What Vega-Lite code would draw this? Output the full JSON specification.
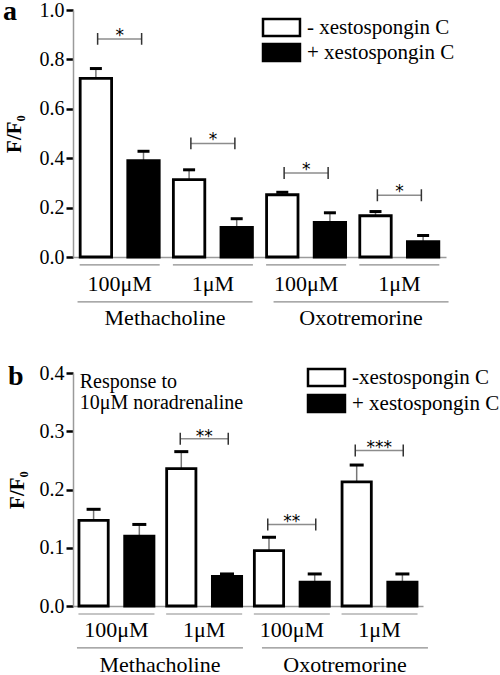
{
  "$schema": "https://vega.github.io/schema/vega-lite/v6.json",
  "padding": {"left": 3, "top": -2, "right": 0, "bottom": 0},
  "config": {
    "font": "Liberation Serif",
    "view": {"stroke": null},
    "axis": {"grid": false, "domainColor": "#9a9a9a", "domainWidth": 1.5, "labelColor": "black", "labelFont": "Liberation Serif", "titleFont": "Liberation Serif", "titleColor": "black"},
    "legend": {"padding": 0, "labelFont": "Liberation Serif"},
    "text": {"font": "Liberation Serif"}
  },
  "datasets": {
    "barsA": [
      {"pair": "Methacholine 100μM", "trt": "-", "value": 0.723, "err": 0.763},
      {"pair": "Methacholine 100μM", "trt": "+", "value": 0.39, "err": 0.428},
      {"pair": "Methacholine 1μM", "trt": "-", "value": 0.313, "err": 0.353},
      {"pair": "Methacholine 1μM", "trt": "+", "value": 0.12, "err": 0.155},
      {"pair": "Oxotremorine 100μM", "trt": "-", "value": 0.252, "err": 0.262},
      {"pair": "Oxotremorine 100μM", "trt": "+", "value": 0.14, "err": 0.179},
      {"pair": "Oxotremorine 1μM", "trt": "-", "value": 0.167, "err": 0.184},
      {"pair": "Oxotremorine 1μM", "trt": "+", "value": 0.062, "err": 0.087}
    ],
    "bracketsA": [
      {"pair": "Methacholine 100μM", "y": 0.883, "stars": "*"},
      {"pair": "Methacholine 1μM", "y": 0.46, "stars": "*"},
      {"pair": "Oxotremorine 100μM", "y": 0.34, "stars": "*"},
      {"pair": "Oxotremorine 1μM", "y": 0.25, "stars": "*"}
    ],
    "barsB": [
      {"pair": "Methacholine 100μM", "trt": "-", "value": 0.147, "err": 0.166},
      {"pair": "Methacholine 100μM", "trt": "+", "value": 0.12, "err": 0.14},
      {"pair": "Methacholine 1μM", "trt": "-", "value": 0.236, "err": 0.265},
      {"pair": "Methacholine 1μM", "trt": "+", "value": 0.051, "err": 0.055},
      {"pair": "Oxotremorine 100μM", "trt": "-", "value": 0.095, "err": 0.118},
      {"pair": "Oxotremorine 100μM", "trt": "+", "value": 0.041, "err": 0.055},
      {"pair": "Oxotremorine 1μM", "trt": "-", "value": 0.213, "err": 0.242},
      {"pair": "Oxotremorine 1μM", "trt": "+", "value": 0.041, "err": 0.055}
    ],
    "bracketsB": [
      {"pair": "Methacholine 1μM", "y": 0.287, "stars": "**"},
      {"pair": "Oxotremorine 100μM", "y": 0.14, "stars": "**"},
      {"pair": "Oxotremorine 1μM", "y": 0.267, "stars": "***"}
    ],
    "pairs": [
      {"pair": "Methacholine 100μM"},
      {"pair": "Methacholine 1μM"},
      {"pair": "Oxotremorine 100μM"},
      {"pair": "Oxotremorine 1μM"}
    ],
    "drugs": [
      {"drug": "Methacholine"},
      {"drug": "Oxotremorine"}
    ],
    "note": [
      {"pair": "Methacholine 100μM", "note": "Response to\n10μM noradrenaline"}
    ]
  },
  "columns": 1,
  "align": "none",
  "spacing": 34,
  "resolve": {"scale": {"x": "independent", "y": "independent", "xOffset": "independent", "fill": "independent"}, "legend": {"fill": "independent"}},
  "concat": [
    {
      "width": 373,
      "height": 247,
      "title": {"text": "a", "anchor": "start", "frame": "group", "fontSize": 28, "fontWeight": "bold", "font": "Liberation Serif", "color": "black", "dx": -70, "offset": -48, "baseline": "alphabetic"},
      "resolve": {"scale": {"x": "independent"}},
      "layer": [
        {
          "data": {"name": "barsA"},
          "encoding": {
            "x": {"field": "pair", "type": "nominal", "sort": null,
              "scale": {"domain": ["Methacholine 100μM", "Methacholine 1μM", "Oxotremorine 100μM", "Oxotremorine 1μM"], "paddingInner": 0.152, "paddingOuter": 0.077},
              "axis": {"title": null, "ticks": false, "labelExpr": "split(datum.label, ' ')[1]", "labelFont": "Liberation Serif", "labelFontSize": 22, "labelPadding": 16, "labelAngle": 0}},
            "xOffset": {"field": "trt", "type": "nominal", "sort": null, "scale": {"domain": ["-", "+"], "paddingInner": 0.34, "paddingOuter": 0}}
          },
          "layer": [
            {"mark": {"type": "rule", "color": "#777777", "strokeWidth": 1.5},
             "encoding": {"y": {"field": "value", "type": "quantitative"}, "y2": {"field": "err"}}},
            {"mark": {"type": "bar", "stroke": "black", "strokeWidth": 2.8},
             "encoding": {
               "y": {"field": "value", "type": "quantitative",
                 "scale": {"domain": [0, 1], "nice": false, "zero": true},
                 "axis": {"title": "F/F₀", "titleFont": "Liberation Serif", "titleFontSize": 21, "titleFontWeight": "bold", "titlePadding": 15, "values": [0, 0.2, 0.4, 0.6, 0.8, 1.0], "format": ".1f", "labelFont": "Liberation Serif", "labelFontSize": 20, "labelPadding": 2, "tickColor": "black", "tickWidth": 2.5, "tickSize": 7}},
               "fill": {"field": "trt", "type": "nominal", "sort": null,
                 "scale": {"domain": ["-", "+"], "range": ["white", "black"]},
                 "legend": {"title": null, "orient": "none", "legendX": 188, "legendY": 7, "symbolType": "M-1,-1H3.35V1H-1Z", "symbolSize": 289, "symbolStrokeColor": "black", "symbolStrokeWidth": 2.5, "labelFontSize": 21, "labelFont": "Liberation Serif", "labelColor": "black", "labelOffset": 25, "rowPadding": -2,
                   "labelExpr": "datum.value == '-' ? '- xestospongin C' : '+ xestospongin C'",
                   "encode": {"symbols": {"update": {"stroke": {"value": "black"}, "strokeWidth": {"value": 2.5}}}}}}
             }},
            {"mark": {"type": "tick", "color": "black", "size": 12, "thickness": 3, "opacity": 1},
             "encoding": {"y": {"field": "err", "type": "quantitative"}}}
          ]
        },
        {
          "data": {"name": "bracketsA"},
          "encoding": {
            "x": {"field": "pair", "type": "nominal", "sort": null, "axis": null,
              "scale": {"domain": ["Methacholine 100μM", "Methacholine 1μM", "Oxotremorine 100μM", "Oxotremorine 1μM"], "paddingInner": 0.152, "paddingOuter": 0.077}},
            "y": {"field": "y", "type": "quantitative"}
          },
          "layer": [
            {"mark": {"type": "point", "shape": "M-1,0H1", "size": 1936, "filled": false, "stroke": "#8c8c8c", "strokeWidth": 1.5, "opacity": 1}},
            {"mark": {"type": "point", "shape": "M-1,-0.27V0.27M1,-0.27V0.27", "size": 1936, "filled": false, "stroke": "#333333", "strokeWidth": 1.5, "opacity": 1}},
            {"mark": {"type": "text", "font": "DejaVu Sans", "fontSize": 17, "baseline": "alphabetic", "dy": 2, "color": "black"},
             "encoding": {"text": {"field": "stars"}}}
          ]
        },
        {
          "data": {"name": "pairs"},
          "mark": {"type": "tick", "size": 80, "thickness": 1.2, "color": "#8c8c8c", "opacity": 1},
          "encoding": {
            "x": {"field": "pair", "type": "nominal", "sort": null, "axis": null,
              "scale": {"domain": ["Methacholine 100μM", "Methacholine 1μM", "Oxotremorine 100μM", "Oxotremorine 1μM"], "paddingInner": 0.152, "paddingOuter": 0.077}},
            "y": {"datum": -0.032, "type": "quantitative"}
          }
        },
        {
          "data": {"name": "drugs"},
          "encoding": {
            "x": {"field": "drug", "type": "nominal", "sort": null, "axis": null,
              "scale": {"type": "point", "domain": ["Methacholine", "Oxotremorine"], "padding": 0.4515, "align": 0.52}}
          },
          "layer": [
            {"mark": {"type": "tick", "size": 175, "thickness": 1.2, "color": "#8c8c8c", "opacity": 1},
             "encoding": {"y": {"datum": -0.182, "type": "quantitative"}}},
            {"mark": {"type": "text", "font": "Liberation Serif", "fontSize": 22, "baseline": "alphabetic", "color": "black"},
             "encoding": {"y": {"datum": -0.275, "type": "quantitative"}, "text": {"field": "drug"}}}
          ]
        }
      ]
    },
    {
      "width": 350,
      "height": 233,
      "title": {"text": "b", "anchor": "start", "frame": "group", "fontSize": 28, "fontWeight": "bold", "font": "Liberation Serif", "color": "black", "dx": -65, "offset": -50, "baseline": "alphabetic"},
      "resolve": {"scale": {"x": "independent"}},
      "layer": [
        {
          "data": {"name": "barsB"},
          "encoding": {
            "x": {"field": "pair", "type": "nominal", "sort": null,
              "scale": {"domain": ["Methacholine 100μM", "Methacholine 1μM", "Oxotremorine 100μM", "Oxotremorine 1μM"], "paddingInner": 0.145, "paddingOuter": 0.068},
              "axis": {"title": null, "ticks": false, "labelExpr": "split(datum.label, ' ')[1]", "labelFont": "Liberation Serif", "labelFontSize": 22, "labelPadding": 13, "labelAngle": 0}},
            "xOffset": {"field": "trt", "type": "nominal", "sort": null, "scale": {"domain": ["-", "+"], "paddingInner": 0.36, "paddingOuter": 0}}
          },
          "layer": [
            {"mark": {"type": "rule", "color": "#777777", "strokeWidth": 1.5},
             "encoding": {"y": {"field": "value", "type": "quantitative"}, "y2": {"field": "err"}}},
            {"mark": {"type": "bar", "stroke": "black", "strokeWidth": 2.8},
             "encoding": {
               "y": {"field": "value", "type": "quantitative",
                 "scale": {"domain": [0, 0.4], "nice": false, "zero": true},
                 "axis": {"title": "F/F₀", "titleFont": "Liberation Serif", "titleFontSize": 21, "titleFontWeight": "bold", "titlePadding": 12, "values": [0, 0.1, 0.2, 0.3, 0.4], "format": ".1f", "labelFont": "Liberation Serif", "labelFontSize": 20, "labelPadding": 2, "tickColor": "black", "tickWidth": 2.5, "tickSize": 7}},
               "fill": {"field": "trt", "type": "nominal", "sort": null,
                 "scale": {"domain": ["-", "+"], "range": ["white", "black"]},
                 "legend": {"title": null, "orient": "none", "legendX": 233, "legendY": -6, "symbolType": "M-1,-1H3.35V1H-1Z", "symbolSize": 289, "symbolStrokeColor": "black", "symbolStrokeWidth": 2.5, "labelFontSize": 21, "labelFont": "Liberation Serif", "labelColor": "black", "labelOffset": 25, "rowPadding": -1,
                   "labelExpr": "datum.value == '-' ? '-xestospongin C' : '+ xestospongin C'",
                   "encode": {"symbols": {"update": {"stroke": {"value": "black"}, "strokeWidth": {"value": 2.5}}}}}}
             }},
            {"mark": {"type": "tick", "color": "black", "size": 14, "thickness": 3, "opacity": 1},
             "encoding": {"y": {"field": "err", "type": "quantitative"}}}
          ]
        },
        {
          "data": {"name": "bracketsB"},
          "encoding": {
            "x": {"field": "pair", "type": "nominal", "sort": null, "axis": null,
              "scale": {"domain": ["Methacholine 100μM", "Methacholine 1μM", "Oxotremorine 100μM", "Oxotremorine 1μM"], "paddingInner": 0.145, "paddingOuter": 0.068}},
            "y": {"field": "y", "type": "quantitative"}
          },
          "layer": [
            {"mark": {"type": "point", "shape": "M-1,0H1", "size": 2304, "filled": false, "stroke": "#8c8c8c", "strokeWidth": 1.5, "opacity": 1}},
            {"mark": {"type": "point", "shape": "M-1,-0.25V0.25M1,-0.25V0.25", "size": 2304, "filled": false, "stroke": "#333333", "strokeWidth": 1.5, "opacity": 1}},
            {"mark": {"type": "text", "font": "DejaVu Sans", "fontSize": 17, "baseline": "alphabetic", "dy": 3, "color": "black"},
             "encoding": {"text": {"field": "stars"}}}
          ]
        },
        {
          "data": {"name": "pairs"},
          "mark": {"type": "tick", "size": 76, "thickness": 1.2, "color": "#8c8c8c", "opacity": 1},
          "encoding": {
            "x": {"field": "pair", "type": "nominal", "sort": null, "axis": null,
              "scale": {"domain": ["Methacholine 100μM", "Methacholine 1μM", "Oxotremorine 100μM", "Oxotremorine 1μM"], "paddingInner": 0.145, "paddingOuter": 0.068}},
            "y": {"datum": -0.0137, "type": "quantitative"}
          }
        },
        {
          "data": {"name": "note"},
          "mark": {"type": "text", "font": "Liberation Serif", "fontSize": 20, "align": "left", "baseline": "middle", "lineBreak": "\n", "lineHeight": 21, "dx": -37, "color": "black"},
          "encoding": {
            "x": {"field": "pair", "type": "nominal", "sort": null, "axis": null,
              "scale": {"domain": ["Methacholine 100μM", "Methacholine 1μM", "Oxotremorine 100μM", "Oxotremorine 1μM"], "paddingInner": 0.145, "paddingOuter": 0.068}},
            "y": {"datum": 0.385, "type": "quantitative"},
            "text": {"field": "note"}
          }
        },
        {
          "data": {"name": "drugs"},
          "encoding": {
            "x": {"field": "drug", "type": "nominal", "sort": null, "axis": null,
              "scale": {"type": "point", "domain": ["Methacholine", "Oxotremorine"], "padding": 0.446, "align": 0.527}}
          },
          "layer": [
            {"mark": {"type": "tick", "size": 166, "thickness": 1.2, "color": "#8c8c8c", "opacity": 1},
             "encoding": {"y": {"datum": -0.072, "type": "quantitative"}}},
            {"mark": {"type": "text", "font": "Liberation Serif", "fontSize": 22, "baseline": "alphabetic", "color": "black"},
             "encoding": {"y": {"datum": -0.113, "type": "quantitative"}, "text": {"field": "drug"}}}
          ]
        }
      ]
    }
  ]
}
